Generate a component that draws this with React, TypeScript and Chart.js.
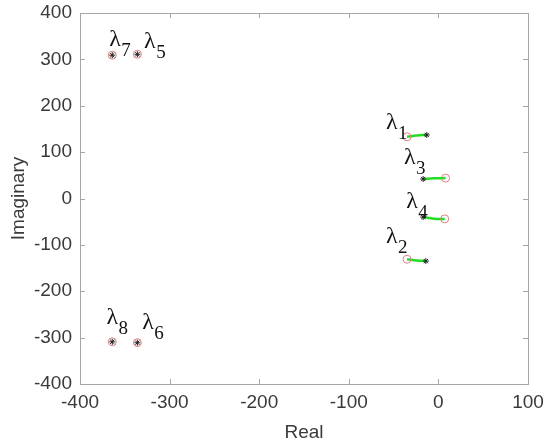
import React, { useEffect, useRef } from "react";
import { Chart, registerables } from "chart.js";
Chart.register(...registerables);

// Start points (open circles)
const startX = [-35, -35, 8, 7, -336, -336, -364, -364];
const startY = [133, -131, 44, -44, 311, -311, 309, -309];
// End points (stars)
const endX = [-13, -14, -17, -17, -336, -336, -364, -364];
const endY = [137, -135, 42, -40, 311, -311, 309, -309];
// Trajectory mid points (green paths)
const midX = [-24, -24, -5, -5];
const midY = [136, -133.5, 43.5, -43.5];
// Labels
const labelNames = ["1", "2", "3", "4", "5", "6", "7", "8"];
const labelX = [-52, -52, -32, -29.5, -322, -324, -361, -364];
const labelY = [163, -83, 87, -7, 337.5, -268, 342, -257];
const xTicks = [-400, -300, -200, -100, 0, 100];
const yTicks = [-400, -300, -200, -100, 0, 100, 200, 300, 400];

const AXIS_COLOR = "#a6a6a6";
const TEXT_COLOR = "#3a3a3a";

const framePlugin = {
  id: "frame",
  afterDatasetsDraw(chart: any) {
    const { ctx, chartArea: a, scales } = chart;
    ctx.save();
    ctx.strokeStyle = AXIS_COLOR;
    ctx.lineWidth = 1;
    ctx.strokeRect(a.left + 0.5, a.top + 0.5, a.right - a.left, a.bottom - a.top);
    const tl = 5;
    ctx.beginPath();
    xTicks.forEach((v) => {
      const px = Math.round(scales.x.getPixelForValue(v)) + 0.5;
      ctx.moveTo(px, a.bottom);
      ctx.lineTo(px, a.bottom - tl);
      ctx.moveTo(px, a.top);
      ctx.lineTo(px, a.top + tl);
    });
    yTicks.forEach((v) => {
      const py = Math.round(scales.y.getPixelForValue(v)) + 0.5;
      ctx.moveTo(a.left, py);
      ctx.lineTo(a.left + tl, py);
      ctx.moveTo(a.right, py);
      ctx.lineTo(a.right - tl, py);
    });
    ctx.stroke();
    // labels
    ctx.fillStyle = "#111";
    ctx.textAlign = "center";
    ctx.textBaseline = "middle";
    labelNames.forEach((n, i) => {
      const px = scales.x.getPixelForValue(labelX[i]);
      const py = scales.y.getPixelForValue(labelY[i]);
      ctx.font = "24px 'Liberation Serif', 'DejaVu Serif', serif";
      ctx.fillText("λ", px, py);
      ctx.font = "19px 'Liberation Serif', 'DejaVu Serif', serif";
      ctx.fillText(n, px + 11, py + 11);
    });
    ctx.restore();
  },
};

export default function App() {
  const ref = useRef<HTMLCanvasElement>(null);
  useEffect(() => {
    document.body.style.margin = "0";
    const paths = midX.map((_, i) => ({
      type: "scatter" as const,
      data: [
        { x: startX[i], y: startY[i] },
        { x: midX[i], y: midY[i] },
        { x: endX[i], y: endY[i] },
      ],
      showLine: true,
      borderColor: "#22dd22",
      borderWidth: 2.5,
      pointRadius: 0,
      tension: 0.4,
      order: 3,
    }));
    const chart = new Chart(ref.current!, {
      type: "scatter",
      data: {
        datasets: [
          ...paths,
          {
            data: startX.map((x, i) => ({ x, y: startY[i] })),
            pointStyle: "circle",
            pointRadius: 4,
            borderColor: "#e08080",
            backgroundColor: "rgba(0,0,0,0)",
            borderWidth: 1,
            order: 2,
          },
          {
            data: endX.map((x, i) => ({ x, y: endY[i] })),
            pointStyle: "star",
            pointRadius: 3,
            borderColor: "#222",
            backgroundColor: "#222",
            borderWidth: 1,
            order: 1,
          },
        ],
      },
      options: {
        animation: false,
        responsive: false,
        layout: { padding: { left: 0, top: 13, right: 22, bottom: 0 } },
        plugins: { legend: { display: false }, tooltip: { enabled: false } },
        scales: {
          x: {
            type: "linear",
            min: -400,
            max: 100,
            afterBuildTicks: (s: any) => {
              s.ticks = xTicks.map((v) => ({ value: v }));
            },
            afterFit: (s: any) => {
              s.height = 60;
              s.paddingLeft = 0;
              s.paddingRight = 0;
            },
            grid: { display: false, drawTicks: false },
            border: { display: false },
            ticks: {
              color: TEXT_COLOR,
              font: { family: "'Liberation Sans', Arial, sans-serif", size: 19 },
              padding: 7,
              maxRotation: 0,
            },
            title: {
              display: true,
              text: "Real",
              color: TEXT_COLOR,
              font: { family: "'Liberation Sans', Arial, sans-serif", size: 19 },
              padding: { top: 0, bottom: 0 },
            },
          },
          y: {
            type: "linear",
            min: -400,
            max: 400,
            afterBuildTicks: (s: any) => {
              s.ticks = yTicks.map((v) => ({ value: v }));
            },
            afterFit: (s: any) => {
              s.width = 80;
              s.paddingTop = 0;
              s.paddingBottom = 0;
            },
            grid: { display: false, drawTicks: false },
            border: { display: false },
            ticks: {
              color: TEXT_COLOR,
              font: { family: "'Liberation Sans', Arial, sans-serif", size: 19 },
              padding: 8,
            },
            title: {
              display: true,
              text: "Imaginary",
              color: TEXT_COLOR,
              font: { family: "'Liberation Sans', Arial, sans-serif", size: 19 },
              padding: { top: 7, bottom: 0 },
            },
          },
        },
      },
      plugins: [framePlugin],
    });
    return () => chart.destroy();
  }, []);
  return (
    <div style={{ position: "absolute", left: 0, top: 0, width: 550, height: 444, background: "#fff" }}>
      <canvas ref={ref} width={550} height={444} />
    </div>
  );
}
